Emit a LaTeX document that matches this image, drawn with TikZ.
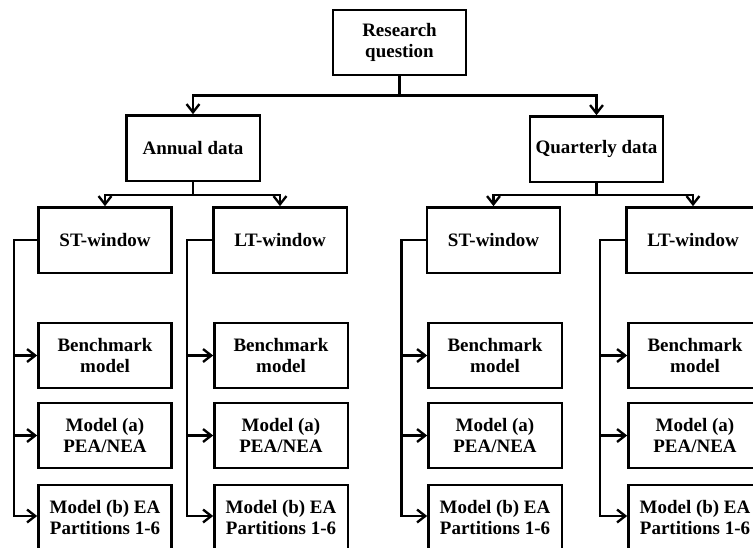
\documentclass[tikz,border=0pt]{standalone}
\usepackage{fontspec}
\setmainfont{Liberation Serif}
\usetikzlibrary{arrows.meta, positioning, calc}

\begin{document}
\begin{tikzpicture}[
    x=0.03cm, y=-0.03cm,
    box/.style={draw, line width=2pt, align=center, inner sep=2pt,
                font=\fontsize{16.2}{17.2}\selectfont\bfseries,
                minimum width=4.0cm, minimum height=1.96cm},
    link/.style={line width=2pt},
    arr/.style={line width=2pt, -{Straight Barb[length=7pt, width=11pt]}},
  ]
    \clip (0,0) rectangle (753,547);

    % level 0
    \node[box] (rq) at (399.5, 42.5) {Research\\question};

    % level 1: data sets
    \node[box] (annual)  at (193, 148)   {Annual data};
    \node[box] (quarter) at (596.5, 149) {Quarterly data};

    % level 2: windows
    \node[box] (stA) at (105, 240)   {ST-window};
    \node[box] (ltA) at (280, 240)   {LT-window};
    \node[box] (stQ) at (493.5, 240) {ST-window};
    \node[box] (ltQ) at (693, 240)   {LT-window};

    % level 3: models, annual
    \node[box] (bmA1) at (105, 355.5) {Benchmark\\model};
    \node[box] (maA1) at (105, 435.5) {Model (a)\\PEA/NEA};
    \node[box] (mbA1) at (105, 517.5) {Model (b) EA\\Partitions 1-6};
    \node[box] (bmA2) at (281, 355.5) {Benchmark\\model};
    \node[box] (maA2) at (281, 435.5) {Model (a)\\PEA/NEA};
    \node[box] (mbA2) at (281, 517.5) {Model (b) EA\\Partitions 1-6};
    % level 3: models, quarterly
    \node[box] (bmQ1) at (495, 355.5) {Benchmark\\model};
    \node[box] (maQ1) at (495, 435.5) {Model (a)\\PEA/NEA};
    \node[box] (mbQ1) at (495, 517.5) {Model (b) EA\\Partitions 1-6};
    \node[box] (bmQ2) at (695, 355.5) {Benchmark\\model};
    \node[box] (maQ2) at (695, 435.5) {Model (a)\\PEA/NEA};
    \node[box] (mbQ2) at (695, 517.5) {Model (b) EA\\Partitions 1-6};

    % tree edges
    \draw[link] (rq.south) -- ++(0,19) coordinate (j0);
    \draw[arr] (j0) -| (annual.north);
    \draw[arr] (j0) -| (quarter.north);
    \draw[link] (annual.south) -- ++(0,13) coordinate (j1);
    \draw[arr] (j1) -| (stA.north);
    \draw[arr] (j1) -| (ltA.north);
    \draw[link] (quarter.south) -- ++(0,12) coordinate (j2);
    \draw[arr] (j2) -| (stQ.north);
    \draw[arr] (j2) -| (ltQ.north);

    % side branches to the models
    \draw[arr] (stA.west) -- ++(-23,0) coordinate (tA1) |- ($(mbA1.west)+(0,-1.5)$);
    \draw[arr] (tA1 |- bmA1.west) -- (bmA1.west);
    \draw[arr] (tA1 |- maA1.west) -- (maA1.west);

    \draw[arr] (ltA.west) -- ++(-25,0) coordinate (tA2) |- ($(mbA2.west)+(0,-1.5)$);
    \draw[arr] (tA2 |- bmA2.west) -- (bmA2.west);
    \draw[arr] (tA2 |- maA2.west) -- (maA2.west);

    \draw[arr] (stQ.west) -- ++(-24,0) coordinate (tQ1) |- ($(mbQ1.west)+(0,-1.5)$);
    \draw[arr] (tQ1 |- bmQ1.west) -- (bmQ1.west);
    \draw[arr] (tQ1 |- maQ1.west) -- (maQ1.west);

    \draw[arr] (ltQ.west) -- ++(-25,0) coordinate (tQ2) |- ($(mbQ2.west)+(0,-1.5)$);
    \draw[arr] (tQ2 |- bmQ2.west) -- (bmQ2.west);
    \draw[arr] (tQ2 |- maQ2.west) -- (maQ2.west);
  \end{tikzpicture}
\end{document}
